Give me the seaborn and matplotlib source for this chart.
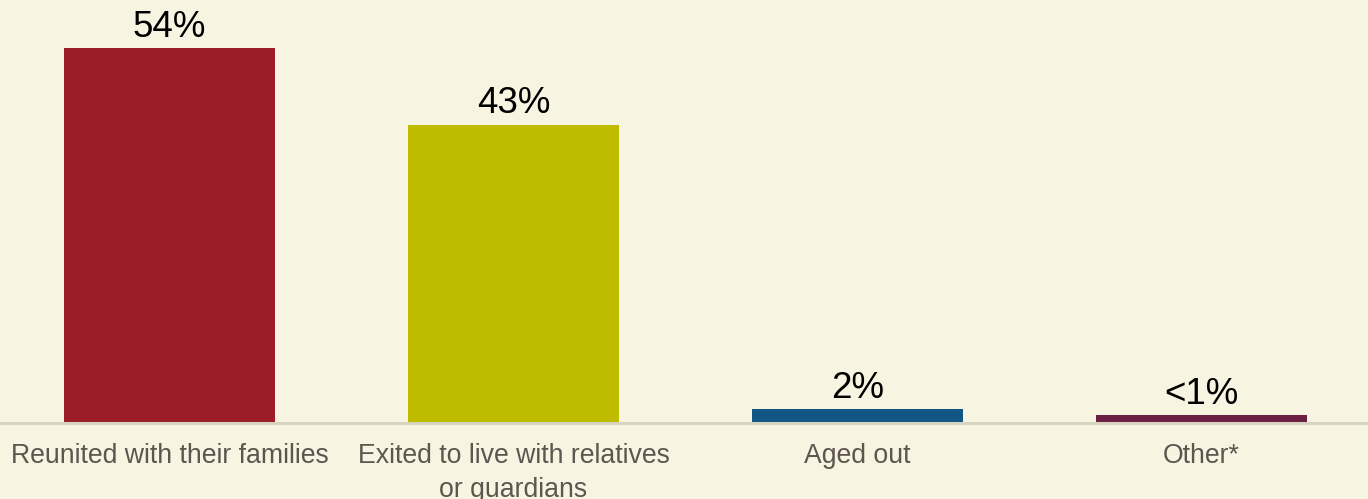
import matplotlib
matplotlib.use("Agg")
import matplotlib.pyplot as plt
import seaborn as sns
import pandas as pd

categories = ["Reunited with their families", "Exited to live with relatives\nor guardians", "Aged out", "Other*"]
values = [54, 43, 2, 1.1]
labels = ["54%", "43%", "2%", "<1%"]
colors = ["#9B1D27", "#BFBC00", "#135685", "#6A1F43"]

bg = "#F7F5E1"
sns.set_theme(style="white")
plt.rcParams['font.family'] = ['Liberation Sans', 'DejaVu Sans']

fig = plt.figure(figsize=(13.68, 4.99), dpi=100, facecolor=bg)
ax = fig.add_axes([0, 0.1523, 1, 0.834])
ax.set_facecolor(bg)

df = pd.DataFrame({"cat": categories, "val": values})
sns.barplot(data=df, x="cat", y="val", hue="cat", palette=colors, legend=False,
            width=0.613, saturation=1, linewidth=0, ax=ax)

ax.set_xlim(-0.493, 3.484)
ax.set_ylim(0, 60)
for p, lab in zip(ax.patches, labels):
    ax.annotate(lab, (p.get_x() + p.get_width() / 2, p.get_height()),
                xytext=(0, 2.5), textcoords="offset points", ha="center", va="bottom",
                fontsize=26.5, color="black")

ax.set_xlabel("")
ax.set_ylabel("")
ax.set_yticks([])
ax.tick_params(axis="x", length=0, pad=14.5, labelsize=19.2, labelcolor="#5F5550")
for t in ax.get_xticklabels():
    t.set_linespacing(1.4)
for s in ["top", "left", "right"]:
    ax.spines[s].set_visible(False)
ax.spines["bottom"].set_color("#D6D3BE")
ax.spines["bottom"].set_linewidth(2.2)

fig.savefig("out.png", dpi=100, facecolor=bg)
